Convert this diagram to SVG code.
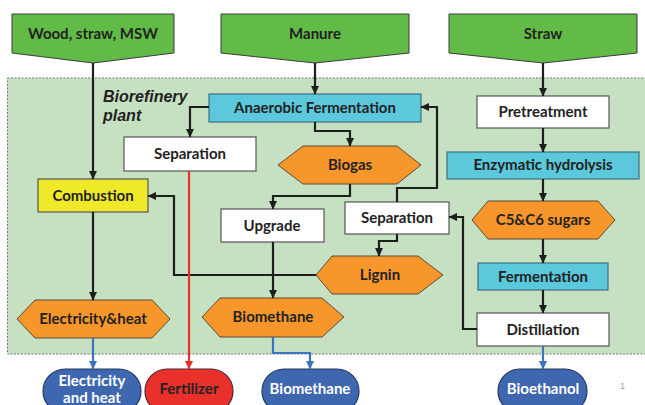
<svg xmlns="http://www.w3.org/2000/svg" width="645" height="405" viewBox="0 0 645 405">
<defs>
<style>
.lbl{font-family:Lato,"Open Sans","Liberation Sans",sans-serif;font-weight:bold;font-size:15px;fill:#222;text-anchor:middle}
.wl{fill:#fff}
.inp{fill:#62BA47;stroke:#3b3b3b;stroke-width:1}
.cyan{fill:#5BC8DC;stroke:#3f6f7e;stroke-width:1.2}
.white{fill:#fff;stroke:#555;stroke-width:1.2}
.orange{fill:#F7962B;stroke:#5a4a3a;stroke-width:1}
.yellow{fill:#F0E92A;stroke:#555;stroke-width:1.2}
.oval{fill:#3F67B0;stroke:#24385e;stroke-width:1.2}
.ovalr{fill:#E9302A;stroke:#4a2a2a;stroke-width:1.2}
.c{fill:none;stroke:#1e1e1e;stroke-width:2.2}
.cb{fill:none;stroke:#3A73C0;stroke-width:2.2}
.cr{fill:none;stroke:#E8312A;stroke-width:2.2}
</style>
<marker id="ak" markerUnits="userSpaceOnUse" markerWidth="9" markerHeight="9" refX="8" refY="4.5" orient="auto"><path d="M0,0.5 L8.5,4.5 L0,8.5 z" fill="#1e1e1e"/></marker>
<marker id="ab" markerUnits="userSpaceOnUse" markerWidth="9" markerHeight="9" refX="8" refY="4.5" orient="auto"><path d="M0,0.5 L8.5,4.5 L0,8.5 z" fill="#3A73C0"/></marker>
<marker id="ar" markerUnits="userSpaceOnUse" markerWidth="9" markerHeight="9" refX="8" refY="4.5" orient="auto"><path d="M0,0.5 L8.5,4.5 L0,8.5 z" fill="#E8312A"/></marker>
</defs>
<rect x="0" y="0" width="645" height="405" fill="#fff"/>
<g id="plant">
<rect x="7.5" y="78" width="645" height="276" fill="#C5E1C1" stroke="#777" stroke-width="1" stroke-dasharray="2,1.5"/>
<text x="103" y="102" font-family="'Liberation Sans',Arial,sans-serif" font-weight="bold" font-style="italic" font-size="16" fill="#222">Biorefinery</text>
<text x="103" y="121" font-family="'Liberation Sans',Arial,sans-serif" font-weight="bold" font-style="italic" font-size="16" fill="#222">plant</text>
</g>
<g id="in-wood"><polygon class="inp" points="12,14 174,14 174,53 93,63 12,53"/><text class="lbl" x="93" y="39">Wood, straw, MSW</text></g>
<g id="in-manure"><polygon class="inp" points="221,14 409,14 409,53 315,63 221,53"/><text class="lbl" x="315" y="39">Manure</text></g>
<g id="in-straw"><polygon class="inp" points="449,14 637,14 637,53 543,63 449,53"/><text class="lbl" x="543" y="39">Straw</text></g>
<g id="anaerobic"><rect class="cyan" x="209" y="94" width="212" height="28"/><text class="lbl" x="315" y="113">Anaerobic Fermentation</text></g>
<g id="pretreatment"><rect class="white" x="477" y="96" width="132" height="32"/><text class="lbl" x="543" y="117">Pretreatment</text></g>
<g id="separation1"><rect class="white" x="124" y="137" width="132" height="34"/><text class="lbl" x="190" y="159">Separation</text></g>
<g id="biogas"><polygon class="orange" points="278,165 303,146 397,146 421,165 397,184 303,184"/><text class="lbl" x="350" y="170">Biogas</text></g>
<g id="enzymatic"><rect class="cyan" x="447" y="152" width="192" height="27"/><text class="lbl" x="543" y="170">Enzymatic hydrolysis</text></g>
<g id="combustion"><rect class="yellow" x="38" y="179" width="110" height="33"/><text class="lbl" x="93" y="201">Combustion</text></g>
<g id="upgrade"><rect class="white" x="221" y="209" width="103" height="33"/><text class="lbl" x="272" y="231">Upgrade</text></g>
<g id="separation2"><rect class="white" x="345" y="202" width="104" height="32"/><text class="lbl" x="397" y="223">Separation</text></g>
<g id="sugars"><polygon class="orange" points="472,220 488,201 598,201 615,220 598,239 488,239"/><text class="lbl" x="543" y="225">C5&amp;C6 sugars</text></g>
<g id="lignin"><polygon class="orange" points="316,275 332,256 418,256 443,275 418,294 332,294"/><text class="lbl" x="380" y="280">Lignin</text></g>
<g id="fermentation"><rect class="cyan" x="478" y="263" width="130" height="27"/><text class="lbl" x="543" y="282">Fermentation</text></g>
<g id="distillation"><rect class="white" x="477" y="313" width="132" height="33"/><text class="lbl" x="543" y="335">Distillation</text></g>
<g id="elecheat"><polygon class="orange" points="17,319 35,300 152,300 170,319 152,338 35,338"/><text class="lbl" x="93" y="324">Electricity&amp;heat</text></g>
<g id="biomethane"><polygon class="orange" points="202,317 220,298 322,298 344,317 322,337 220,337"/><text class="lbl" x="273" y="322">Biomethane</text></g>
<g id="out-elec"><rect class="oval" x="43" y="369" width="98" height="44" rx="22"/><text class="lbl wl" x="92" y="386">Electricity</text><text class="lbl wl" x="92" y="403">and heat</text></g>
<g id="out-fert"><rect class="ovalr" x="145" y="369" width="88" height="44" rx="22"/><text class="lbl" x="189" y="394">Fertilizer</text></g>
<g id="out-biomethane"><rect class="oval" x="262" y="369" width="97" height="44" rx="22"/><text class="lbl wl" x="310" y="394">Biomethane</text></g>
<g id="out-bioethanol"><rect class="oval" x="498" y="369" width="89" height="44" rx="22"/><text class="lbl wl" x="543" y="394">Bioethanol</text></g>
<g id="pagenum"><text x="620" y="389" font-family="'Liberation Sans',Arial,sans-serif" font-size="9" fill="#999">1</text></g>
<g id="connectors">
<path class="c" d="M93,63 V179" marker-end="url(#ak)"/>
<path class="c" d="M315,63 V94" marker-end="url(#ak)"/>
<path class="c" d="M543,63 V96" marker-end="url(#ak)"/>
<path class="c" d="M543,128 V152" marker-end="url(#ak)"/>
<path class="c" d="M543,179 V201" marker-end="url(#ak)"/>
<path class="c" d="M543,239 V263" marker-end="url(#ak)"/>
<path class="c" d="M543,290 V313" marker-end="url(#ak)"/>
<path class="c" d="M209,107 H190 V137" marker-end="url(#ak)"/>
<path class="c" d="M315,122 V131 H350 V146" marker-end="url(#ak)"/>
<path class="c" d="M350,184 V196 H273 V209" marker-end="url(#ak)"/>
<path class="c" d="M397,202 V188 H437 V107 H421" marker-end="url(#ak)"/>
<path class="c" d="M397,234 V241 H379 V256" marker-end="url(#ak)"/>
<path class="c" d="M316,275 H174 V196 H148" marker-end="url(#ak)"/>
<path class="c" d="M273,242 V298" marker-end="url(#ak)"/>
<path class="c" d="M477,329 H463 V217 H449" marker-end="url(#ak)"/>
<path class="c" d="M93,212 V300" marker-end="url(#ak)"/>
<path class="cb" d="M93,338 V369" marker-end="url(#ab)"/>
<path class="cb" d="M273,337 V353 H310 V369" marker-end="url(#ab)"/>
<path class="cb" d="M543,346 V369" marker-end="url(#ab)"/>
<path class="cr" d="M189,171 V369" marker-end="url(#ar)"/>
</g>
</svg>
